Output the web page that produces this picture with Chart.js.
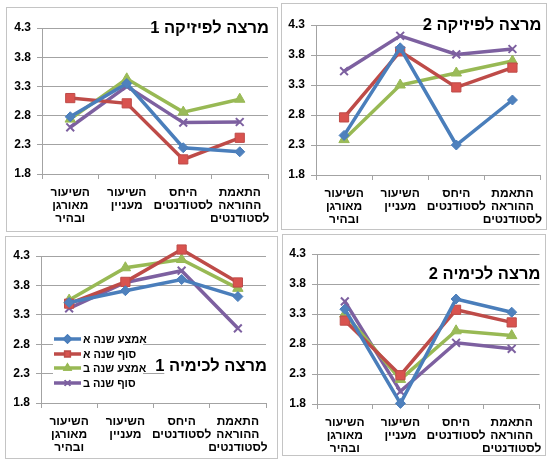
<!DOCTYPE html>
<html><head><meta charset="utf-8">
<script src="https://cdn.jsdelivr.net/npm/chart.js@4.4.1/dist/chart.umd.min.js"></script>
<style>
html,body{margin:0;padding:0;background:#fff;}
body{width:549px;height:459px;position:relative;overflow:hidden;}
.panel{position:absolute;box-sizing:border-box;border:1px solid #c4c4c4;background:#fff;}
.panel canvas{position:absolute;left:0;top:0;}
</style></head>
<body>
<div class="panel" id="p0"><canvas id="c0"></canvas></div>
<div class="panel" id="p1"><canvas id="c1"></canvas></div>
<div class="panel" id="p2"><canvas id="c2"></canvas></div>
<div class="panel" id="p3"><canvas id="c3"></canvas></div>
<script>
// ---- data ----
const categories = [['השיעור','מאורגן','ובהיר'], ['השיעור','מעניין'], ['היחס','לסטודנטים'], ['התאמת','ההוראה','לסטודנטים']];
const seriesNames = ['אמצע שנה א', 'סוף שנה א', 'אמצע שנה ב', 'סוף שנה ב'];
const yTicks = [1.8, 2.3, 2.8, 3.3, 3.8, 4.3];
const chartTitles = ['מרצה לפיזיקה 1', 'מרצה לפיזיקה 2', 'מרצה לכימיה 1', 'מרצה לכימיה 2'];

const physics1MidA = [2.78, 3.35, 2.25, 2.18];
const physics1EndA = [3.10, 3.01, 2.05, 2.42];
const physics1MidB = [2.74, 3.43, 2.86, 3.08];
const physics1EndB = [2.60, 3.30, 2.68, 2.69];

const physics2MidA = [2.46, 3.92, 2.30, 3.05];
const physics2EndA = [2.76, 3.86, 3.26, 3.59];
const physics2MidB = [2.39, 3.30, 3.50, 3.70];
const physics2EndB = [3.53, 4.12, 3.81, 3.90];

const chemistry1MidA = [3.51, 3.71, 3.90, 3.61];
const chemistry1EndA = [3.49, 3.86, 4.41, 3.85];
const chemistry1MidB = [3.55, 4.10, 4.24, 3.75];
const chemistry1EndB = [3.41, 3.85, 4.05, 3.07];

const chemistry2MidA = [3.38, 1.81, 3.55, 3.33];
const chemistry2EndA = [3.19, 2.28, 3.37, 3.16];
const chemistry2MidB = [3.30, 2.21, 3.02, 2.94];
const chemistry2EndB = [3.51, 2.01, 2.82, 2.72];

const panelSeries = [
  [physics1MidA, physics1EndA, physics1MidB, physics1EndB],
  [physics2MidA, physics2EndA, physics2MidB, physics2EndB],
  [chemistry1MidA, chemistry1EndA, chemistry1MidB, chemistry1EndB],
  [chemistry2MidA, chemistry2EndA, chemistry2MidB, chemistry2EndB]
];

// ---- styles ----
const lineColors = ['#4a7ebb', '#be4b48', '#98b954', '#7d60a0'];
const markerFill = ['#4f81bd', '#d9534f', '#9bbb59', '#8064a2'];
const markerStyles = ['rectRot', 'rect', 'triangle', 'crossRot'];
const markerRadius = [5, 6.5, 6, 5.5];
const gridColor = '#a3a3a3';

// panel box (absolute) and plot area (absolute)
const layouts = [
  {box:{x:6,y:7,w:272,h:225}, plot:{l:41,r:267,t:27,b:173}, title:{}},
  {box:{x:281,y:3,w:266,h:227}, plot:{l:315,r:540,t:24,b:174}, title:{}},
  {box:{x:5,y:236,w:273,h:223}, plot:{l:40,r:265,t:255,b:402}, title:{y:365}, legend:true},
  {box:{x:282,y:234,w:264,h:222}, plot:{l:316,r:542,t:253,b:403}, title:{y:273}}
];

const hebFont = '"Liberation Sans", Arial, "DejaVu Sans", sans-serif';

function makePlugin(idx, L) {
  return {
    id: 'overlay' + idx,
    afterDraw(chart) {
      const ctx = chart.ctx;
      const area = chart.chartArea;
      ctx.save();
      // title
      ctx.font = 'bold 16.5px ' + hebFont;
      ctx.direction = 'rtl';
      ctx.textAlign = 'right';
      ctx.textBaseline = 'middle';
      const txt = chartTitles[idx];
      const tw = ctx.measureText(txt).width;
      const tx = area.right + 1;
      const ty = (L.title.y !== undefined) ? (L.title.y - L.box.y) : area.top;
      ctx.fillStyle = '#fff';
      ctx.fillRect(tx - tw + 9, ty - 10, tw - 8, 20);
      ctx.fillStyle = '#000';
      ctx.fillText(txt, tx, ty);
      // legend
      if (L.legend) {
        const x0 = 53 - L.box.x;
        const rows = [338, 353, 367, 382];
        ctx.fillStyle = '#fff';
        ctx.fillRect(x0 - 1, rows[0] - L.box.y - 8, 90, rows[3] - rows[0] + 16);
        ctx.font = 'bold 11px ' + hebFont;
        for (let i = 0; i < 4; i++) {
          const yy = rows[i] - L.box.y;
          ctx.strokeStyle = lineColors[i];
          ctx.lineWidth = 3.5;
          ctx.beginPath();
          ctx.moveTo(x0, yy);
          ctx.lineTo(x0 + 27, yy);
          ctx.stroke();
          ctx.fillStyle = markerFill[i];
          ctx.lineWidth = 1.5;
          Chart.helpers.drawPoint(ctx, {pointStyle: markerStyles[i], radius: 4, borderWidth: 1.5}, x0 + 13.5, yy);
          ctx.fill();
          ctx.stroke();
          ctx.fillStyle = '#000';
          ctx.direction = 'rtl';
          ctx.textAlign = 'left';
          ctx.textBaseline = 'middle';
          ctx.fillText(seriesNames[i], x0 + 29, yy + 1);
        }
      }
      ctx.restore();
    }
  };
}

layouts.forEach((L, idx) => {
  const panel = document.getElementById('p' + idx);
  panel.style.left = L.box.x + 'px';
  panel.style.top = L.box.y + 'px';
  panel.style.width = L.box.w + 'px';
  panel.style.height = L.box.h + 'px';
  const canvas = document.getElementById('c' + idx);
  canvas.width = L.box.w; canvas.height = L.box.h;
  canvas.style.width = L.box.w + 'px'; canvas.style.height = L.box.h + 'px';

  const yWidth = L.plot.l - L.box.x;
  const xHeight = L.box.y + L.box.h - L.plot.b;
  const padTop = L.plot.t - L.box.y;
  const padRight = L.box.x + L.box.w - L.plot.r;

  const datasets = panelSeries[idx].map((vals, i) => ({
    label: seriesNames[i],
    data: vals,
    borderColor: lineColors[i],
    backgroundColor: markerFill[i],
    pointBackgroundColor: markerFill[i],
    pointBorderColor: lineColors[i],
    pointStyle: markerStyles[i],
    pointRadius: markerRadius[i],
    pointBorderWidth: markerStyles[i] === 'crossRot' ? 2 : 1,
    borderWidth: 3.5,
    tension: 0,
    clip: false
  }));

  new Chart(canvas, {
    type: 'line',
    data: { labels: categories, datasets },
    options: {
      responsive: false,
      animation: false,
      devicePixelRatio: 1,
      layout: { padding: { top: padTop, right: padRight, left: 0, bottom: 0 } },
      plugins: { legend: { display: false }, tooltip: { enabled: false }, title: { display: false } },
      scales: {
        x: {
          offset: true,
          grid: { display: true, offset: true, drawOnChartArea: false, drawTicks: true, tickLength: 5, color: gridColor },
          border: { display: true, color: gridColor, width: 1 },
          ticks: { color: '#000', font: { family: hebFont, size: 12, weight: 'bold', lineHeight: 1.1 }, padding: 7, maxRotation: 0, autoSkip: false },
          afterFit(s) { s.height = xHeight; s.paddingLeft = 0; s.paddingRight = 0; }
        },
        y: {
          min: 1.8, max: 4.3,
          afterBuildTicks(s) { s.ticks = yTicks.map(v => ({ value: v })); },
          grid: { color: gridColor, lineWidth: 1, drawTicks: true, tickLength: 5 },
          border: { display: true, color: gridColor, width: 1 },
          ticks: { color: '#000', font: { family: '"Liberation Sans", Arial, sans-serif', size: 12, weight: 'bold' }, padding: 6,
                   callback: v => Number(v).toFixed(1) },
          afterFit(s) { s.width = yWidth; s.paddingTop = 0; s.paddingBottom = 0; }
        }
      }
    },
    plugins: [makePlugin(idx, L)]
  });
});
</script>
</body></html>
